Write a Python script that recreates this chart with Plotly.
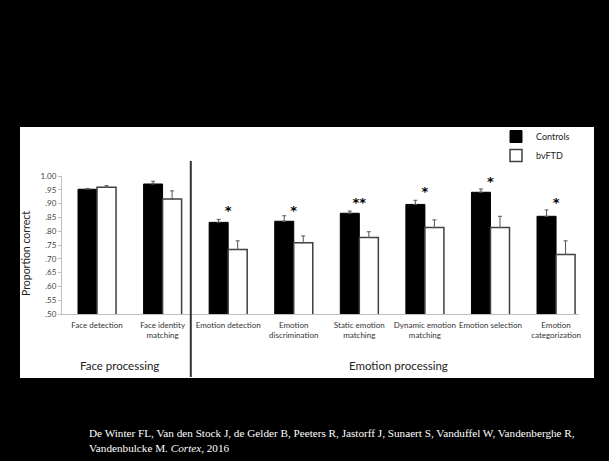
import plotly.graph_objects as go

categories = ["Face detection", "Face identity<br>matching", "Emotion detection",
              "Emotion<br>discrimination", "Static emotion<br>matching",
              "Dynamic emotion<br>matching", "Emotion selection", "Emotion<br>categorization"]
controls = [0.952, 0.971, 0.832, 0.836, 0.865, 0.897, 0.941, 0.854]
controls_err = [0.003, 0.010, 0.011, 0.020, 0.008, 0.015, 0.012, 0.023]
bvftd = [0.959, 0.917, 0.734, 0.758, 0.777, 0.813, 0.813, 0.716]
bvftd_err = [0.006, 0.029, 0.031, 0.025, 0.021, 0.028, 0.041, 0.049]
sig_labels = ["", "", "*", "*", "**", "*", "*", "*"]
sig_y = [None, None, 0.872, 0.872, 0.898, 0.941, 0.974, 0.901]
y_ticks = [0.50, 0.55, 0.60, 0.65, 0.70, 0.75, 0.80, 0.85, 0.90, 0.95, 1.00]
y_tick_labels = [".50", ".55", ".60", ".65", ".70", ".75", ".80", ".85", ".90", ".95", "1.00"]

xs = list(range(len(categories)))
FONT = "Lato"

fig = go.Figure()
fig.add_trace(go.Bar(
    x=xs, y=controls, name="Controls",
    marker=dict(color="black", line=dict(color="black", width=1)),
    error_y=dict(type="data", array=controls_err, arrayminus=[0] * len(xs), symmetric=False,
                 color="#555555", thickness=1, width=2),
))
fig.add_trace(go.Bar(
    x=xs, y=bvftd, name="bvFTD",
    marker=dict(color="white", line=dict(color="#404040", width=1.5)),
    error_y=dict(type="data", array=bvftd_err, arrayminus=[0] * len(xs), symmetric=False,
                 color="#555555", thickness=1, width=2),
))
fig.add_trace(go.Scatter(
    x=xs, y=sig_y, mode="text", text=sig_labels, showlegend=False, cliponaxis=False,
    textfont=dict(family="DejaVu Sans", size=13, color="black", weight="bold"), hoverinfo="skip",
))

W, H = 609, 461
L, R, T, B = 62, 30, 176, 147
pw, ph = W - L - R, H - T - B

def px_x(p):
    return (p - L) / pw

def px_y(p):
    return (H - B - p) / ph

fig.add_shape(type="rect", xref="paper", yref="paper",
              x0=px_x(20), x1=px_x(594), y0=px_y(378), y1=px_y(127),
              fillcolor="white", line=dict(width=0), layer="below")
fig.add_shape(type="line", xref="x", yref="paper", x0=1.43, x1=1.43,
              y0=px_y(377), y1=px_y(161), line=dict(color="#333333", width=2))

fig.add_annotation(xref="x", yref="paper", x=0.35, y=px_y(365.5), yanchor="middle", xanchor="center",
                   text="Face processing",
                   showarrow=False, font=dict(family=FONT, size=11.5, color="#222222"))
fig.add_annotation(xref="x", yref="paper", x=4.6, y=px_y(365.5), yanchor="middle", xanchor="center",
                   text="Emotion processing",
                   showarrow=False, font=dict(family=FONT, size=11.5, color="#222222"))
fig.add_annotation(xref="paper", yref="paper", x=px_x(26), y=px_y(254), xanchor="center", yanchor="middle",
                   text="Proportion correct",
                   textangle=-90, showarrow=False, font=dict(family=FONT, size=10.5, color="#222222"))
fig.add_annotation(xref="paper", yref="paper", x=px_x(87), y=px_y(425), xanchor="left", yanchor="top",
                   align="left", showarrow=False,
                   text="De Winter FL, Van den Stock J, de Gelder B, Peeters R, Jastorff J, Sunaert S, Vanduffel W, Vandenberghe R,<br>"
                        "Vandenbulcke M. <i>Cortex,</i> 2016",
                   font=dict(family="Liberation Serif", size=11.2, color="white"))

fig.update_layout(
    width=W, height=H,
    margin=dict(l=L, r=R, t=T, b=B),
    paper_bgcolor="black", plot_bgcolor="white",
    barmode="group", bargap=0.42, bargroupgap=0,
    showlegend=True,
    legend=dict(x=px_x(496), y=px_y(122), xanchor="left", yanchor="top",
                bgcolor="rgba(0,0,0,0)", font=dict(family=FONT, size=9, color="#222222"),
                tracegroupgap=4, itemwidth=30),
    xaxis=dict(range=[-0.534, 7.35], tickmode="array", tickvals=xs, ticktext=categories,
               showline=True, linecolor="#bfbfbf", linewidth=1, ticks="", showgrid=False,
               zeroline=False, ticklabelstandoff=3,
               tickfont=dict(family=FONT, size=8, color="#333333")),
    yaxis=dict(range=[0.5, 1.0], tickmode="array", tickvals=y_ticks, ticktext=y_tick_labels,
               showline=True, linecolor="#bfbfbf", linewidth=1, ticks="outside", ticklen=3,
               tickcolor="#bfbfbf", showgrid=False, zeroline=False,
               tickfont=dict(family=FONT, size=8, color="#444444")),
)

fig.write_html("out.html", config={"displayModeBar": False},
               post_script="document.body.style.margin='0';document.body.style.background='black';")
